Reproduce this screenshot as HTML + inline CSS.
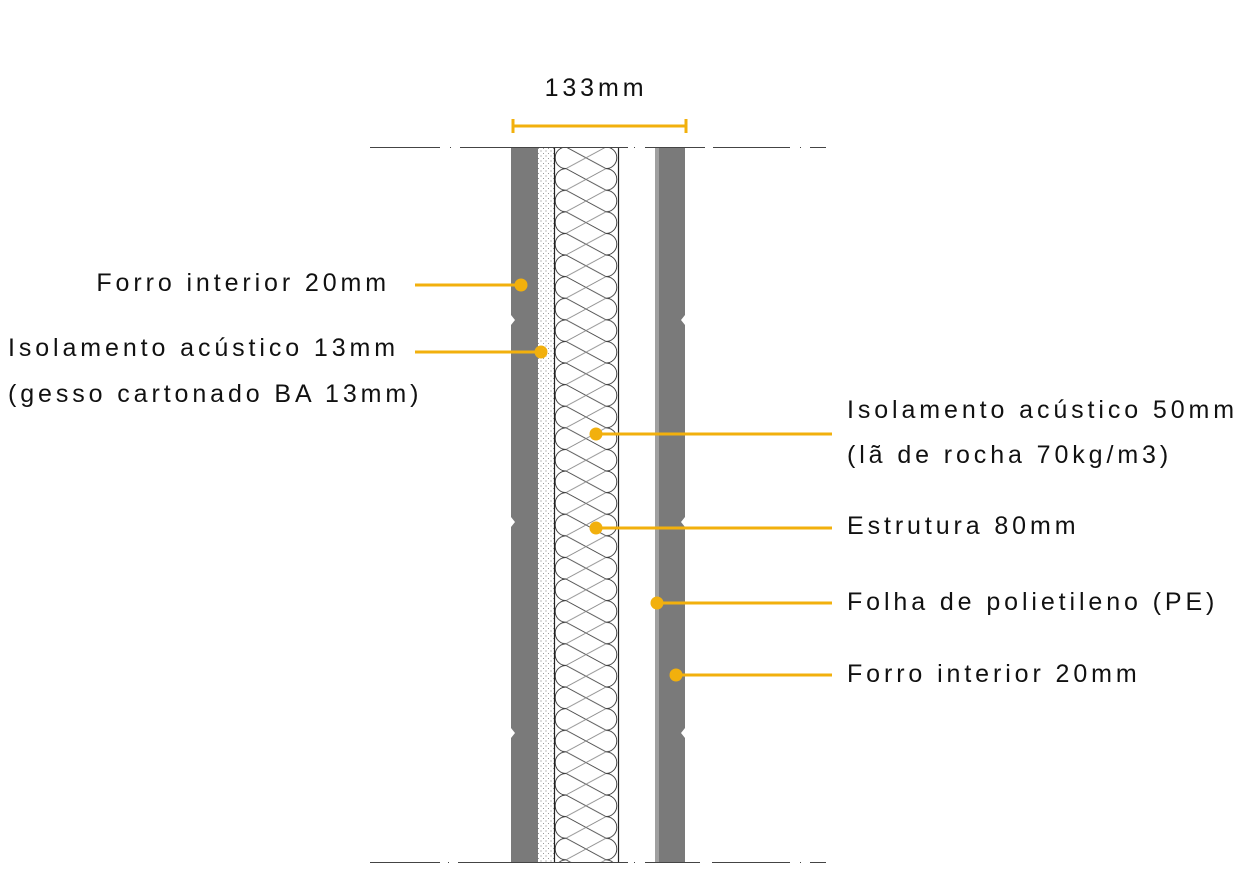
<!DOCTYPE html>
<html><head><meta charset="utf-8"><style>
html,body{margin:0;padding:0;background:#fff;}
svg{display:block;}
text{font-family:"Liberation Sans",sans-serif;font-size:25px;letter-spacing:3.9px;fill:#111;}
</style></head><body>
<svg width="1243" height="870" viewBox="0 0 1243 870" xmlns="http://www.w3.org/2000/svg">
<defs>
<pattern id="dots" width="5" height="5" patternUnits="userSpaceOnUse">
<circle cx="1" cy="1" r="0.5" fill="#555"/><circle cx="3.5" cy="3.5" r="0.5" fill="#777"/>
</pattern>
<pattern id="wool" x="554" y="147" width="64" height="21.6" patternUnits="userSpaceOnUse">
<path d="M12,0 L52,21.6" fill="none" stroke="#444" stroke-width="0.9"/>
<path d="M12,21.6 L52,0" fill="none" stroke="#888" stroke-width="0.9"/>
<path d="M12,0 A10.8,10.8 0 0 0 12,21.6" fill="none" stroke="#333" stroke-width="0.9"/>
<path d="M52,0 A10.8,10.8 0 0 1 52,21.6" fill="none" stroke="#333" stroke-width="0.9"/>
</pattern>
</defs>
<g stroke="#444" stroke-width="1">
<line x1="370" y1="147.5" x2="440" y2="147.5"/><line x1="450" y1="147.5" x2="451" y2="147.5"/><line x1="460" y1="147.5" x2="628" y2="147.5"/><line x1="634" y1="147.5" x2="635" y2="147.5"/><line x1="645" y1="147.5" x2="705" y2="147.5"/><line x1="713" y1="147.5" x2="790" y2="147.5"/><line x1="800" y1="147.5" x2="801" y2="147.5"/><line x1="810" y1="147.5" x2="826" y2="147.5"/>
<line x1="370" y1="862.5" x2="440" y2="862.5"/><line x1="448" y1="862.5" x2="449" y2="862.5"/><line x1="458" y1="862.5" x2="628" y2="862.5"/><line x1="634" y1="862.5" x2="635" y2="862.5"/><line x1="645" y1="862.5" x2="700" y2="862.5"/><line x1="712" y1="862.5" x2="790" y2="862.5"/><line x1="800" y1="862.5" x2="801" y2="862.5"/><line x1="810" y1="862.5" x2="826" y2="862.5"/>
</g>
<polygon fill="#7a7a7a" points="511,148 538,148 538,862 511,862 511,738 515,733 511,728 511,527 515,522 511,517 511,325 515,320 511,315"/>
<rect x="538" y="148" width="16" height="714" fill="#fff"/>
<rect x="538" y="148" width="16" height="714" fill="url(#dots)"/>
<rect x="554" y="148" width="64" height="714" fill="#fff"/>
<rect x="554" y="148" width="64" height="714" fill="url(#wool)"/>
<line x1="554.5" y1="148" x2="554.5" y2="862" stroke="#222" stroke-width="1.2"/>
<line x1="618.5" y1="148" x2="618.5" y2="862" stroke="#222" stroke-width="1.2"/>
<rect x="655" y="148" width="4" height="714" fill="#a0a0a0"/>
<polygon fill="#7a7a7a" points="659,148 685,148 685,315 681,320 685,325 685,517 681,522 685,527 685,728 681,733 685,738 685,862 659,862"/>
<g stroke="#f2b00d" stroke-width="3">
<line x1="512" y1="126" x2="687" y2="126"/>
<line x1="513" y1="119" x2="513" y2="133"/>
<line x1="686" y1="119" x2="686" y2="133"/>
</g>
<text x="596" y="96" text-anchor="middle">133mm</text>
<g stroke="#f2b00d" stroke-width="3">
<line x1="415" y1="285" x2="521" y2="285"/>
<line x1="415" y1="352" x2="541" y2="352"/>
<line x1="596" y1="434" x2="832" y2="434"/>
<line x1="596" y1="528" x2="832" y2="528"/>
<line x1="657" y1="603" x2="832" y2="603"/>
<line x1="676" y1="675" x2="832" y2="675"/>
</g>
<g fill="#f2b00d">
<circle cx="521" cy="285" r="6.5"/><circle cx="541" cy="352" r="6.5"/>
<circle cx="596" cy="434" r="6.5"/><circle cx="596" cy="528" r="6.5"/>
<circle cx="657" cy="603" r="6.5"/><circle cx="676" cy="675" r="6.5"/>
</g>
<text x="390" y="291" text-anchor="end">Forro interior 20mm</text>
<text x="8" y="356">Isolamento acústico 13mm</text>
<text x="8" y="402">(gesso cartonado BA 13mm)</text>
<text x="847" y="418">Isolamento acústico 50mm</text>
<text x="847" y="463">(lã de rocha 70kg/m3)</text>
<text x="847" y="534">Estrutura 80mm</text>
<text x="847" y="610">Folha de polietileno (PE)</text>
<text x="847" y="682">Forro interior 20mm</text>
</svg>
</body></html>
